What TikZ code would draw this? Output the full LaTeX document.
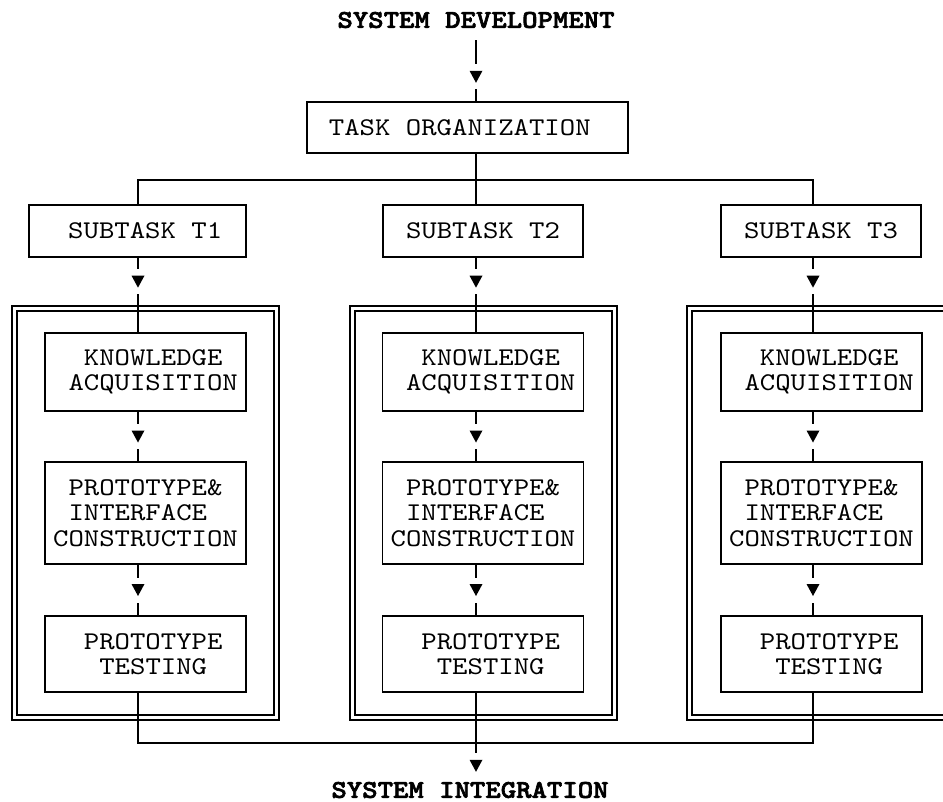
\documentclass[tikz,border=0pt]{standalone}
\usepackage{fontspec}
\setmainfont{lmmono10-regular.otf}[FakeStretch=1.15, BoldFont=lmmonolt10-bold.otf, BoldFeatures={FakeBold=2.5}]
\usetikzlibrary{calc}
\newcommand{\lpad}{\hphantom{X}}
\tikzset{
    box/.style={draw, line width=1.8pt, inner sep=0pt, align=center, font=\fontsize{25.5}{25.5}\selectfont},
    heading/.style={inner sep=0pt, font=\fontsize{25.5}{25.5}\selectfont\bfseries},
    link/.style={line width=1.5pt},
    frame/.style={line width=1.4pt, double, double distance=3.6pt},
    tip/.style={fill=white, inner sep=0pt, minimum width=15pt, minimum height=25pt,
        path picture={\fill[black] ([shift={(-6.5pt,6pt)}]path picture bounding box.center) -- ++(13pt,0pt) -- ++(-6.5pt,-12pt) -- cycle;}}
}

\begin{document}
\begin{tikzpicture}[x=1pt,y=-1pt]
    \useasboundingbox (0,0) rectangle (943,802);
    \node[heading] (dev) at (476,20) {SYSTEM DEVELOPMENT};
    \node[heading] (sysint) at (470,790) {SYSTEM INTEGRATION};
    \node[box, minimum width=321, minimum height=51] (org) at (467.5,127.5) {TASK ORGANIZATION\lpad};
    \coordinate (bus) at (476,180);
    \coordinate (merge) at (476,743);
    \draw[link] ($(dev.south)+(0,12)$) -- node[tip, pos=0.6] {} (org.north -| bus);

    \foreach \i/\cx/\bx/\sx/\sw/\pre in {1/138/145.5/137.5/217/\lpad, 2/476/483/483/200/, 3/813/821.5/821/200/}{
      \coordinate (col\i) at (\cx,0);
      \draw[frame] (\cx-123.5,308.5) rectangle (\cx+138.5,717.5);
      \node[box, minimum width=\sw, minimum height=52] (sub\i) at (\sx,231) {\pre SUBTASK T\i};
      \node[box, minimum width=201, minimum height=78] (ka\i) at (\bx,372) {\lpad KNOWLEDGE\\\lpad ACQUISITION};
      \node[box, minimum width=201, minimum height=102] (pic\i) at (\bx,513) {PROTOTYPE\&\\INTERFACE\lpad\\CONSTRUCTION};
      \node[box, minimum width=201, minimum height=76] (pt\i) at (\bx,654) {\lpad PROTOTYPE\\\lpad TESTING};
      \draw[link] (sub\i.south -| col\i) -- node[tip, pos=0.32] {} (ka\i.north -| col\i);
      \draw[link] (ka\i.south -| col\i) -- node[tip] {} (pic\i.north -| col\i);
      \draw[link] (pic\i.south -| col\i) -- node[tip] {} (pt\i.north -| col\i);
    }

    \draw[link] (org.south -| bus) -- (sub2.north -| col2);
    \draw[link] (sub1.north -| col1) |- (bus) -| (sub3.north -| col3);
    \draw[link] (pt1.south -| col1) |- (merge) -| (pt3.south -| col3);
    \draw[link] (pt2.south -| col2) -- node[tip, pos=0.88] {} ($(sysint.north -| col2)+(0,-6)$);
\end{tikzpicture}
\end{document}
